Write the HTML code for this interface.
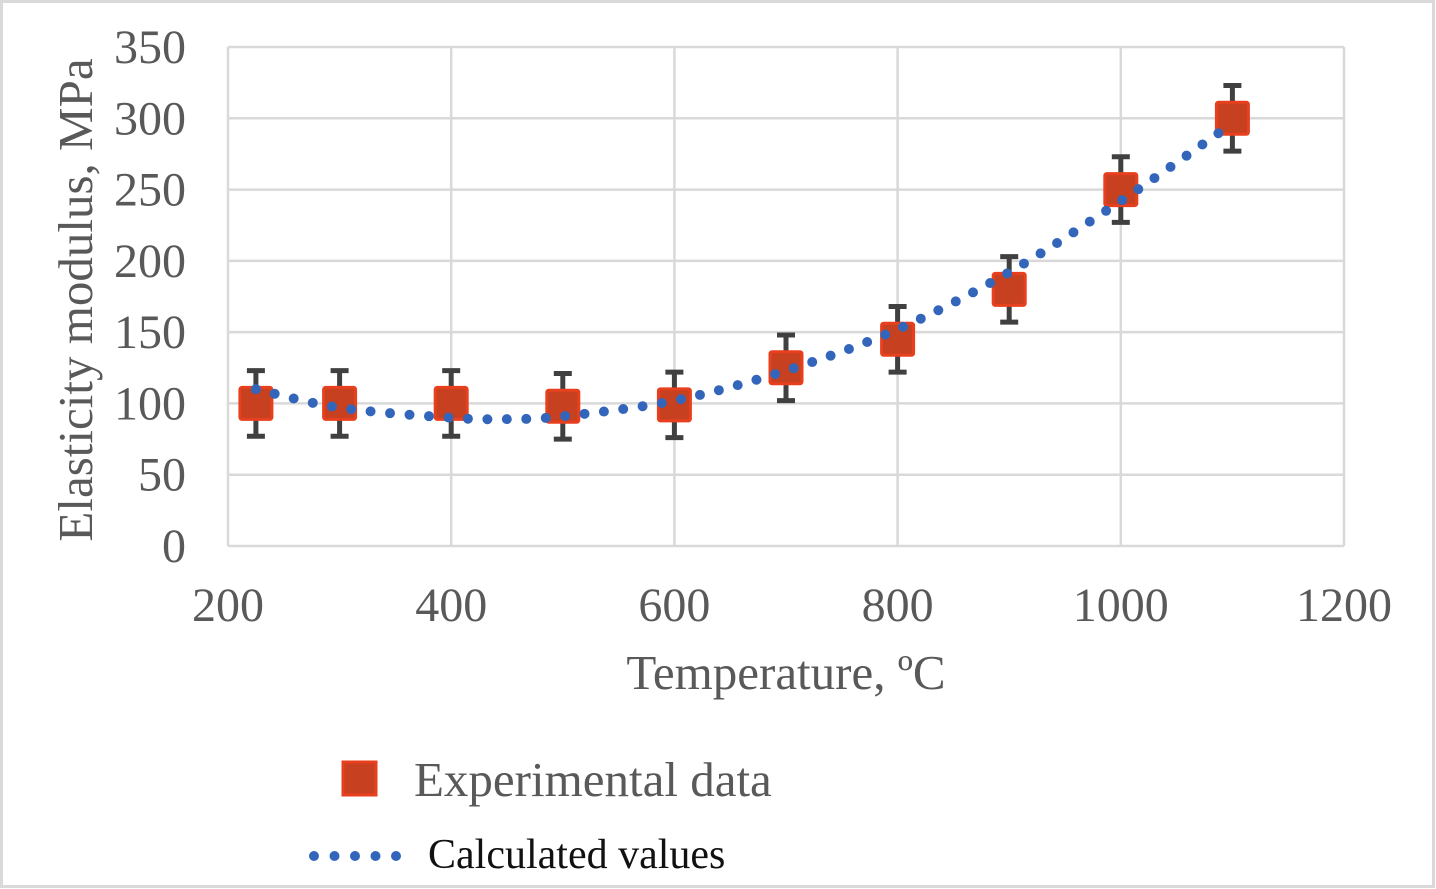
<!DOCTYPE html>
<html><head><meta charset="utf-8"><style>
html,body{margin:0;padding:0;background:#fff}
svg{display:block}
text{font-family:"Liberation Serif",serif;fill:#595959}
</style></head><body>
<svg id="chart" width="1436" height="889">
<rect x="1.5" y="1.5" width="1432" height="885" fill="#fff" stroke="#d9d9d9" stroke-width="3"/>
<g id="grid"></g>
<g id="series"></g>
<text x="786" y="689" font-size="49" text-anchor="middle">Temperature, ºC</text>
<text transform="translate(92,300) rotate(-90)" font-size="49" text-anchor="middle">Elasticity modulus, MPa</text>
<g>
<rect x="343" y="762" width="33" height="33" fill="#c7401f" stroke="#e8401f" stroke-width="3"/>
<text x="414" y="796" font-size="49">Experimental data</text>
<line x1="314" y1="856" x2="400" y2="856" stroke="#3366bb" stroke-width="10" stroke-linecap="round" stroke-dasharray="0 20.5"/>
<text x="428" y="868" font-size="42" style="fill:#111">Calculated values</text>
</g>
</svg>
<script>
const xTicks=[200,400,600,800,1000,1200];
const yTicks=[0,50,100,150,200,250,300,350];
const expX=[225,300,400,500,600,700,800,900,1000,1100];
const expY=[100,100,100,98,99,125,145,180,250,300];
const expErr=[23,23,23,23,23,23,23,23,23,23];
const calcX=[225,300,400,450,500,600,700,800,900,1000,1092];
const calcY=[110,97,90,89,91,102,123,152,192,242,292];
const NS="http://www.w3.org/2000/svg";
const X0=228,X1=1344,Y0=546,Y1=47;
const sx=v=>X0+(v-200)/1000*(X1-X0);
const sy=v=>Y0-v/350*(Y0-Y1);
function mk(tag,attrs,parent){const e=document.createElementNS(NS,tag);for(const k in attrs)e.setAttribute(k,attrs[k]);parent.appendChild(e);return e;}
const grid=document.getElementById('grid'),ser=document.getElementById('series');
yTicks.forEach(t=>{
 const l=mk('line',{x1:X0,x2:X1,y1:sy(t),y2:sy(t),stroke:'#d9d9d9','stroke-width':2.5},grid);
 
 
 const tx=mk('text',{x:186,y:sy(t)+16,'font-size':48,'text-anchor':'end'},grid);tx.textContent=t;
 
 
});
xTicks.forEach(t=>{
 const l=mk('line',{x1:sx(t),x2:sx(t),y1:Y1,y2:Y0,stroke:'#d9d9d9','stroke-width':2.5},grid);
 
 
 const tx=mk('text',{x:sx(t),y:621,'font-size':48,'text-anchor':'middle'},grid);tx.textContent=t;
 
 
});
expX.forEach((x,i)=>{
 const cx=sx(x),cy=sy(expY[i]),t=sy(expY[i]+expErr[i]),b=sy(expY[i]-expErr[i]);
 const g=mk('g',{},ser);
 
 
 mk('line',{x1:cx,x2:cx,y1:t,y2:b,stroke:'#404040','stroke-width':5},g);
 mk('line',{x1:cx-9,x2:cx+9,y1:t,y2:t,stroke:'#404040','stroke-width':5},g);
 mk('line',{x1:cx-9,x2:cx+9,y1:b,y2:b,stroke:'#404040','stroke-width':5},g);
 const r=mk('rect',{x:cx-16,y:cy-16,width:32,height:32,rx:2,fill:'#c7401f',stroke:'#e8401f','stroke-width':3},ser);
 
 
});
const pts=calcX.map((x,i)=>[sx(x),sy(calcY[i])]);
let d='M'+pts[0][0]+','+pts[0][1];
for(let i=0;i<pts.length-1;i++){
 const p0=pts[i-1]||pts[i],p1=pts[i],p2=pts[i+1],p3=pts[i+2]||p2;
 const c1=[p1[0]+(p2[0]-p0[0])/6,p1[1]+(p2[1]-p0[1])/6];
 const c2=[p2[0]-(p3[0]-p1[0])/6,p2[1]-(p3[1]-p1[1])/6];
 d+=` C${c1[0]},${c1[1]} ${c2[0]},${c2[1]} ${p2[0]},${p2[1]}`;
}
const path=mk('path',{d:d,fill:'none',stroke:'#3366bb','stroke-width':10,'stroke-linecap':'round','stroke-dasharray':'0 19.5'},ser);


</script>
</body></html>
